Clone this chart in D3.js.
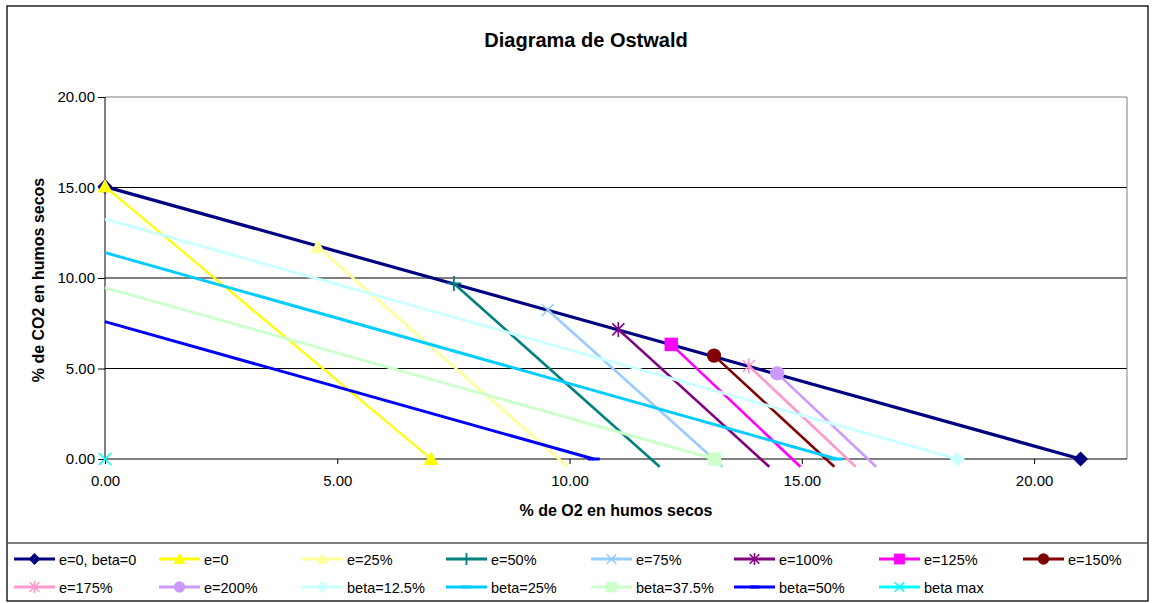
<!DOCTYPE html>
<html><head><meta charset="utf-8">
<script src="https://cdn.jsdelivr.net/npm/d3@7"></script>
<style>body{margin:0;background:#fff}svg{display:block;font-family:"Liberation Sans",Arial,sans-serif}</style>
</head><body><svg id="c" width="1154" height="603"></svg>
<script>
// ---- data ----
const xTicks = [0, 5, 10, 15, 20];
const yTicks = [0, 5, 10, 15, 20];
const seriesNames = ["e=0, beta=0","e=0","e=25%","e=50%","e=75%","e=100%","e=125%","e=150%",
  "e=175%","e=200%","beta=12.5%","beta=25%","beta=37.5%","beta=50%","beta max"];
const mainX = [0, 21.0],      mainY = [15.05, 0];
const e0X = [0, 7.02],        e0Y = [15.05, 0];
const e25X = [4.58, 9.96],    e25Y = [11.71, -0.43];
const e50X = [7.51, 11.94],   e50Y = [9.70, -0.43];
const e75X = [9.53, 13.29],   e75Y = [8.23, -0.43];
const e100X = [11.05, 14.30], e100Y = [7.16, -0.43];
const e125X = [12.19, 14.97], e125Y = [6.33, -0.43];
const e150X = [13.11, 15.70], e150Y = [5.71, -0.43];
const e175X = [13.86, 16.16], e175Y = [5.14, -0.43];
const e200X = [14.47, 16.60], e200Y = [4.73, -0.43];
const b125X = [0, 18.35],     b125Y = [13.26, 0];
const b25X = [0, 15.75],      b25Y = [11.40, 0];
const b375X = [0, 13.12],     b375Y = [9.47, 0];
const b50X = [0, 10.52],      b50Y = [7.59, 0];
const bmaxX = [0],            bmaxY = [0];

const seriesX = [mainX,e0X,e25X,e50X,e75X,e100X,e125X,e150X,e175X,e200X,b125X,b25X,b375X,b50X,bmaxX];
const seriesY = [mainY,e0Y,e25Y,e50Y,e75Y,e100Y,e125Y,e150Y,e175Y,e200Y,b125Y,b25Y,b375Y,b50Y,bmaxY];

// ---- styles ----
const colors = ["#000080","#FFFF00","#FFFF99","#008080","#99CCFF","#800080","#FF00FF","#800000",
  "#FF99CC","#CC99FF","#CCFFFF","#00CCFF","#CCFFCC","#0000FF","#00FFFF"];
const shapes = ["diamond","triangle","triangle","plus","x","star","square","circle",
  "star","circle","diamond","dash","square","dash","x"];
const widths = [3.2,2.2,2.6,2.6,2.6,2.6,2.6,2.6,2.6,2.6,3,3,3,3,2.5];
// which points carry a visible marker
const markerIdx = [[0,1],[0,1],[0],[0],[0],[0],[0],[0],[0],[0],[1],[1],[1],[1],[0]];

const svg = d3.select("#c");
const x = d3.scaleLinear().domain([0,22]).range([105,1127]);
const y = d3.scaleLinear().domain([0,20]).range([459,97]);

// chart border
svg.append("rect").attr("x",7).attr("y",6).attr("width",1141).attr("height",595)
  .attr("fill","#fff").attr("stroke","#000").attr("stroke-width",1.3);
svg.append("line").attr("x1",7).attr("x2",1148).attr("y1",543).attr("y2",543)
  .attr("stroke","#555").attr("stroke-width",1.3);

svg.append("text").attr("x",586).attr("y",47).attr("text-anchor","middle")
  .attr("font-weight","bold").attr("font-size",20).text("Diagrama de Ostwald");

// grid
svg.append("g").selectAll("line").data(yTicks.filter(d=>d>0 && d<20)).join("line")
  .attr("x1",x(0)).attr("x2",x(22)).attr("y1",d=>y(d)).attr("y2",d=>y(d))
  .attr("stroke","#000").attr("stroke-width",1);
svg.append("path").attr("d",`M${x(0)},${y(20)}H${x(22)}V${y(0)}`)
  .attr("fill","none").attr("stroke","#808080").attr("stroke-width",1);

// axes
const ya = svg.append("g").attr("transform",`translate(${x(0)},0)`)
  .call(d3.axisLeft(y).tickValues(yTicks).tickFormat(d3.format(".2f")).tickSize(7).tickSizeOuter(0).tickPadding(3));
const xa = svg.append("g").attr("transform",`translate(0,${y(0)})`)
  .call(d3.axisBottom(x).tickValues(xTicks).tickFormat(d3.format(".2f")).tickSize(5).tickSizeOuter(0).tickPadding(11));
[ya,xa].forEach(a=>{
  a.selectAll("text").attr("font-size",15).attr("fill","#000").attr("font-family","Liberation Sans, Arial, sans-serif");
  a.selectAll("line,path").attr("stroke","#000");
});
ya.select(".domain").attr("d",`M0,${y(20)}V${y(0)}`);
xa.select(".domain").attr("d",`M${x(0)},0H${x(22)}`);

svg.append("text").attr("x",616).attr("y",516).attr("text-anchor","middle")
  .attr("font-weight","bold").attr("font-size",16).text("% de O2 en humos secos");
svg.append("text").attr("transform","translate(44,280) rotate(-90)").attr("text-anchor","middle")
  .attr("font-weight","bold").attr("font-size",16).text("% de CO2 en humos secos");

function marker(g, shape, cx, cy, s, col){
  const h = s/2;
  if(shape==="diamond") g.append("path").attr("d",`M${cx},${cy-h}L${cx+h},${cy}L${cx},${cy+h}L${cx-h},${cy}Z`).attr("fill",col);
  else if(shape==="triangle") g.append("path").attr("d",`M${cx},${cy-h}L${cx+h},${cy+h*0.8}L${cx-h},${cy+h*0.8}Z`).attr("fill",col);
  else if(shape==="square") g.append("rect").attr("x",cx-h*0.9).attr("y",cy-h*0.9).attr("width",s*0.9).attr("height",s*0.9).attr("fill",col);
  else if(shape==="circle") g.append("circle").attr("cx",cx).attr("cy",cy).attr("r",h*0.95).attr("fill",col);
  else if(shape==="plus") g.append("path").attr("d",`M${cx-h},${cy}H${cx+h}M${cx},${cy-h}V${cy+h}`).attr("stroke",col).attr("stroke-width",1.8);
  else if(shape==="x") g.append("path").attr("d",`M${cx-h*0.8},${cy-h*0.8}L${cx+h*0.8},${cy+h*0.8}M${cx+h*0.8},${cy-h*0.8}L${cx-h*0.8},${cy+h*0.8}`).attr("stroke",col).attr("stroke-width",1.6);
  else if(shape==="star") g.append("path").attr("d",`M${cx-h*0.8},${cy-h*0.8}L${cx+h*0.8},${cy+h*0.8}M${cx+h*0.8},${cy-h*0.8}L${cx-h*0.8},${cy+h*0.8}M${cx},${cy-h}V${cy+h}`).attr("stroke",col).attr("stroke-width",1.6);
  else if(shape==="dash") g.append("path").attr("d",`M${cx-h*0.8},${cy}H${cx+h*0.8}`).attr("stroke",col).attr("stroke-width",3);
}

const line = d3.line().x(d=>x(d[0])).y(d=>y(d[1]));
const plot = svg.append("g");
seriesNames.forEach((name,i)=>{
  const pts = seriesX[i].map((v,k)=>[v, seriesY[i][k]]);
  const g = plot.append("g");
  if(pts.length>1) g.append("path").attr("d",line(pts)).attr("fill","none")
     .attr("stroke",colors[i]).attr("stroke-width",widths[i]);
  markerIdx[i].forEach(k=>marker(g, shapes[i], x(pts[k][0]), y(pts[k][1]), 15, colors[i]));
});

// legend
const colX = [14,159,302,446,591,734,879,1023];
const rowY = [559,587];
const lg = svg.append("g");
seriesNames.forEach((name,i)=>{
  const cx = colX[i%8], cy = rowY[Math.floor(i/8)];
  const g = lg.append("g");
  g.append("line").attr("x1",cx).attr("x2",cx+41).attr("y1",cy).attr("y2",cy)
    .attr("stroke",colors[i]).attr("stroke-width",3);
  marker(g, shapes[i], cx+20.5, cy, 12, colors[i]);
  g.append("text").attr("x",cx+45).attr("y",cy+5.5).attr("font-size",14.5).text(name);
});
</script></body></html>
